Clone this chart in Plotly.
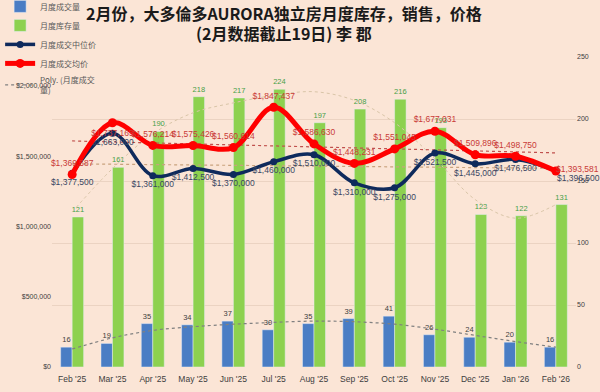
import plotly.graph_objects as go

months = ["Feb '25", "Mar '25", "Apr '25", "May '25", "Jun '25", "Jul '25", "Aug '25",
          "Sep '25", "Oct '25", "Nov '25", "Dec '25", "Jan '26", "Feb '26"]
sales = [16, 19, 35, 34, 37, 30, 35, 39, 41, 26, 24, 20, 16]
inventory = [121, 161, 190, 218, 217, 224, 197, 208, 216, 193, 123, 122, 131]
median_price = [1377500, 1663000, 1361000, 1412500, 1370000, 1460000, 1510000,
                1310000, 1275000, 1521500, 1445000, 1476500, 1396500]
avg_price = [1369587, 1737165, 1576214, 1575426, 1560614, 1847437, 1586630,
             1448231, 1551045, 1677031, 1509896, 1498750, 1393581]
# trendlines
sales_trend = [14.5, 23.5, 29.5, 32.5, 34.5, 36, 37, 36.5, 34.5, 30.5, 25.5, 20.5, 16]
inventory_trend = [125, 160, 188, 205, 213, 219, 222, 215, 197, 168, 135, 120, 131]
avg_trend_ends = [1608000, 1523000]
median_trend_ends = [1445000, 1413000]
left_ticks = [0, 500000, 1000000, 1500000, 2000000]
left_tick_text = ["$0", "$500,000", "$1,000,000", "$1,500,000", "$2,000,000"]
right_ticks = [0, 50, 100, 150, 200, 250]

xi = list(range(len(months)))
ends_x = [xi[0], xi[-1]]

BG = "#FBE5D6"
LBL = "Liberation Sans"
CJK = "Noto Sans CJK SC"
AVG_LBL = "#C93A36"
MED_LBL = "#3A4763"

avg_pos = ["top center"] * len(months)
avg_pos[1] = "bottom center"
med_pos = ["bottom center"] * len(months)

# the last point's labels are placed as annotations (to the right of the point)
avg_text = [f"${v:,}" for v in avg_price]
med_text = [f"${v:,}" for v in median_price]
avg_text_pts = avg_text[:-1] + [""]
med_text_pts = med_text[:-1] + [""]

fig = go.Figure()

fig.add_trace(go.Bar(
    x=xi, y=sales, name="月度成交量", marker_color="#4A7DC4", yaxis="y",
    text=[str(v) for v in sales], textposition="outside", constraintext="none",
    textfont=dict(size=7.5, color="#404040", family=LBL), cliponaxis=False,
    legendrank=1))
fig.add_trace(go.Bar(
    x=xi, y=inventory, name="月度库存量", marker_color="#8DD14F", yaxis="y",
    text=[str(v) for v in inventory], textposition="outside", constraintext="none",
    textfont=dict(size=7.5, color="#46A046", family=LBL), cliponaxis=False,
    legendrank=2))

fig.add_trace(go.Scatter(
    x=xi, y=inventory_trend, mode="lines", yaxis="y", showlegend=False,
    line=dict(color="#D9C5A8", width=1, dash="dot", shape="spline"), hoverinfo="skip"))
fig.add_trace(go.Scatter(
    x=xi, y=sales_trend, mode="lines", yaxis="y", name="Poly. (月度成交<br>量)",
    line=dict(color="#808080", width=1.2, dash="dot", shape="spline"), legendrank=5))

fig.add_trace(go.Scatter(
    x=ends_x, y=median_trend_ends, mode="lines", yaxis="y2", showlegend=False,
    line=dict(color="#C9A27E", width=1.2, dash="dot"), hoverinfo="skip"))
fig.add_trace(go.Scatter(
    x=ends_x, y=avg_trend_ends, mode="lines", yaxis="y2", showlegend=False,
    line=dict(color="#C0504D", width=1.2, dash="dot"), hoverinfo="skip"))

fig.add_trace(go.Scatter(
    x=xi, y=median_price, mode="lines+markers+text", yaxis="y2", name="月度成交中位价",
    line=dict(color="#0E2A5C", width=3.5, shape="spline"),
    marker=dict(size=7, color="#0E2A5C"),
    text=med_text_pts, textposition=med_pos,
    textfont=dict(size=8.5, color=MED_LBL, family=LBL), cliponaxis=False,
    legendrank=3))
fig.add_trace(go.Scatter(
    x=xi, y=avg_price, mode="lines+markers+text", yaxis="y2", name="月度成交均价",
    line=dict(color="#FF0000", width=5, shape="spline"),
    marker=dict(size=9, color="#FF0000"),
    text=avg_text_pts, textposition=avg_pos,
    textfont=dict(size=8.5, color=AVG_LBL, family=LBL), cliponaxis=False,
    legendrank=4))

fig.add_annotation(x=xi[-1], y=avg_price[-1], xref="x", yref="y2", text=avg_text[-1],
                   showarrow=False, xanchor="left", yanchor="middle", xshift=-2, yshift=2,
                   font=dict(size=8.5, color=AVG_LBL, family=LBL))
fig.add_annotation(x=xi[-1], y=median_price[-1], xref="x", yref="y2", text=med_text[-1],
                   showarrow=False, xanchor="left", yanchor="middle", xshift=-1, yshift=-7,
                   font=dict(size=8.5, color=MED_LBL, family=LBL))

fig.update_layout(
    width=600, height=392,
    paper_bgcolor=BG, plot_bgcolor=BG,
    margin=dict(l=52, r=24, t=57, b=25, autoexpand=False),
    barmode="group", bargap=0.43, bargroupgap=0,
    title=dict(
        text="<b>2月份，大多倫多AURORA独立房月度库存，销售，价格<br>(2月数据截止19日) 李 郡</b>",
        x=0.473, xanchor="center", xref="container",
        y=0.950, yanchor="top", yref="container",
        font=dict(family=CJK, size=16, color="#1A1A1A")),
    xaxis=dict(
        tickmode="array", tickvals=xi, ticktext=months, range=[-0.5, 12.5],
        showgrid=False, zeroline=False, showline=False, ticks="",
        ticklabelstandoff=5,
        tickfont=dict(family=LBL, size=8.5, color="#404040")),
    yaxis=dict(
        side="right", range=[0, 250], tickvals=right_ticks,
        showgrid=True, gridcolor="#EBD3C2", gridwidth=1, zeroline=False,
        showline=False, ticks="",
        tickfont=dict(family=LBL, size=7, color="#404040")),
    yaxis2=dict(
        side="left", overlaying="y", range=[0, 2205000], tickmode="array",
        tickvals=left_ticks, ticktext=left_tick_text, showgrid=False, zeroline=False,
        showline=False, ticks="",
        tickfont=dict(family=LBL, size=7, color="#404040")),
    legend=dict(
        xref="paper", yref="paper", x=-0.099, y=1.21,
        xanchor="left", yanchor="top", orientation="v",
        bgcolor="rgba(0,0,0,0)", font=dict(family=CJK, size=8, color="#595959"),
        itemwidth=30, tracegroupgap=0, traceorder="normal"),
    showlegend=True,
)

fig.write_html("out.html", post_script="document.body.style.margin='0';",
               config={"displayModeBar": False})
